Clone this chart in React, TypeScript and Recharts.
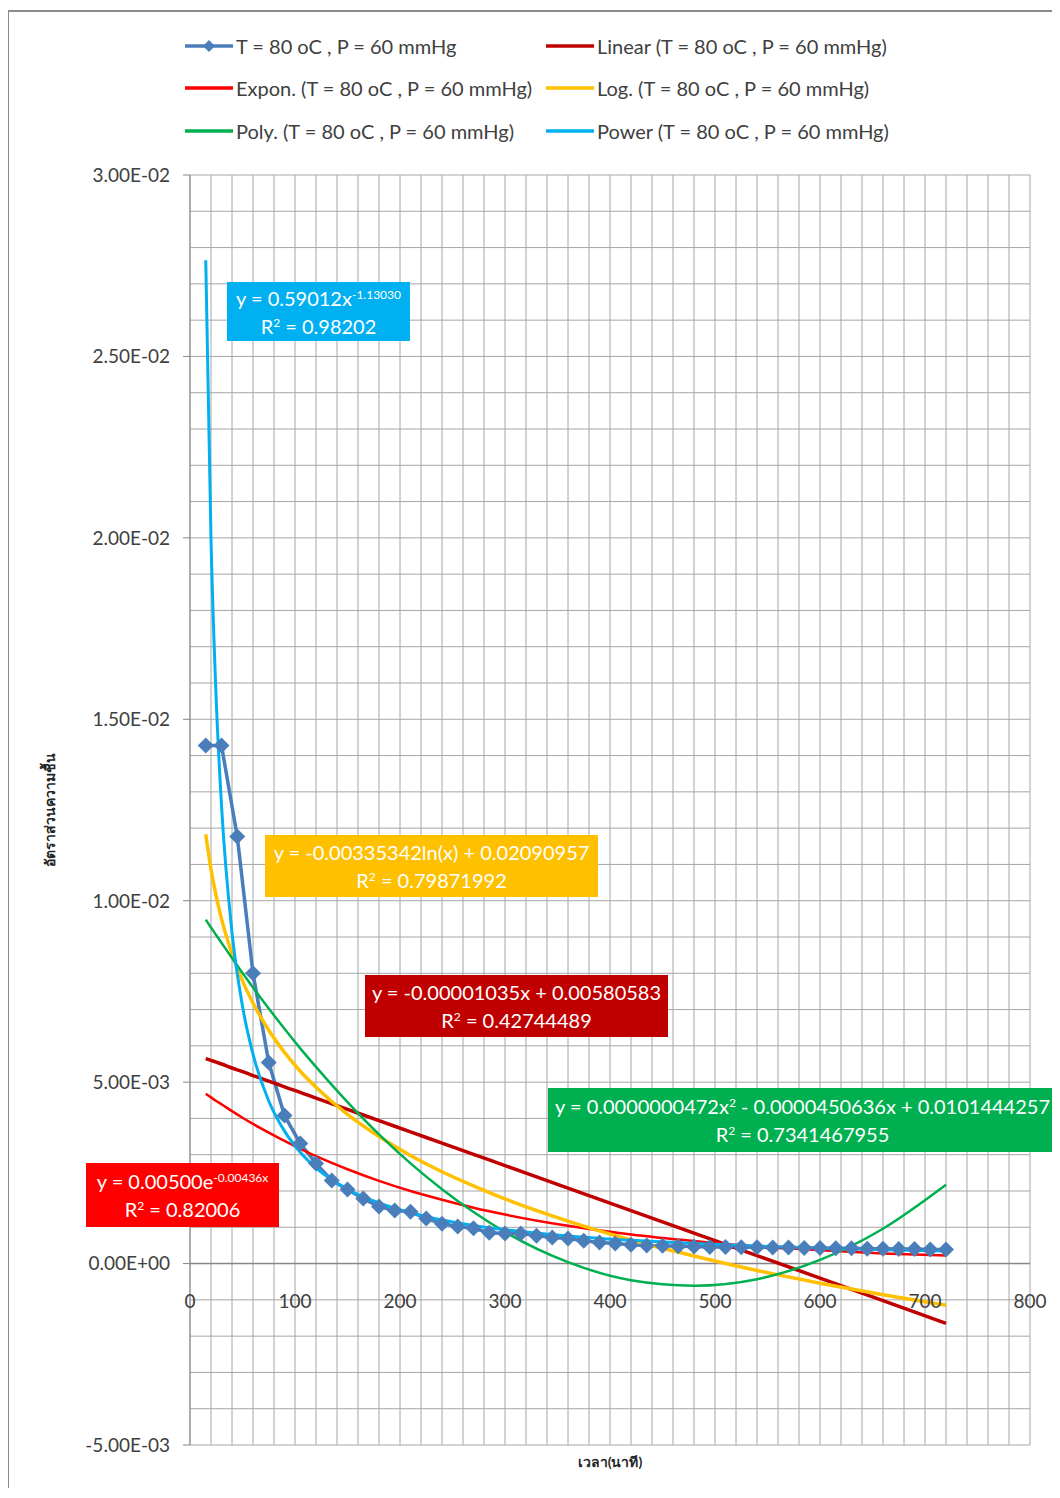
import React from "react";
import { ComposedChart, Line, XAxis, YAxis, CartesianGrid, ReferenceLine, ReferenceDot } from "recharts";

// drying time (min) and moisture ratio
const times = [
  15, 30, 45, 60, 75, 90, 105, 120, 135, 150, 165, 180, 195, 210, 225, 240,
  255, 270, 285, 300, 315, 330, 345, 360, 375, 390, 405, 420, 435, 450, 465, 480,
  495, 510, 525, 540, 555, 570, 585, 600, 615, 630, 645, 660, 675, 690, 705, 720,
];
const moisture = [
  0.01428, 0.01428, 0.01177, 0.008, 0.00554, 0.00408, 0.00331, 0.00276, 0.00229, 0.00204, 0.00179, 0.00157,
  0.00146, 0.00143, 0.00124, 0.0011, 0.00102, 0.00097, 0.00085, 0.00083, 0.00083, 0.00077, 0.00072, 0.00069,
  0.00063, 0.00058, 0.00055, 0.00052, 0.0005, 0.00049, 0.00048, 0.00047, 0.00046, 0.00046, 0.00045, 0.00045,
  0.00044, 0.00044, 0.00043, 0.00043, 0.00042, 0.00042, 0.00041, 0.00041, 0.0004, 0.0004, 0.00039, 0.00039,
];

// trendlines, sampled along the x range
const trendX = [15, 20, 25, 30, 40, 50, 60, 75, 90, 105, 120, 150, 180, 210, 240, 270, 300, 360, 420, 480, 540, 600, 660, 720];
const linearFit = [
  0.00565, 0.0056, 0.00555, 0.0055, 0.00539, 0.00529, 0.00518, 0.00503, 0.00487, 0.00472, 0.00456, 0.00425,
  0.00394, 0.00363, 0.00332, 0.00301, 0.0027, 0.00208, 0.00146, 0.00084, 0.00022, -0.0004, -0.00102, -0.00165,
];
const exponFit = [
  0.00468, 0.00458, 0.00448, 0.00439, 0.0042, 0.00402, 0.00385, 0.00361, 0.00338, 0.00316, 0.00296, 0.0026,
  0.00228, 0.002, 0.00176, 0.00154, 0.00135, 0.00104, 0.0008, 0.00062, 0.00047, 0.00037, 0.00028, 0.00022,
];
const logFit = [
  0.01183, 0.01086, 0.01012, 0.0095, 0.00854, 0.00779, 0.00718, 0.00643, 0.00582, 0.0053, 0.00486, 0.00411,
  0.0035, 0.00298, 0.00253, 0.00214, 0.00178, 0.00117, 0.00065, 0.00021, -0.00019, -0.00054, -0.00086, -0.00115,
];
const polyFit = [
  0.00948, 0.00926, 0.00905, 0.00884, 0.00842, 0.00801, 0.00761, 0.00703, 0.00647, 0.00593, 0.00542, 0.00445,
  0.00356, 0.00276, 0.00205, 0.00142, 0.00087, 0.00004, -0.00046, -0.00061, -0.00043, 0.0001, 0.00096, 0.00217,
];
const powerFit = [
  0.02765, 0.01997, 0.01552, 0.01263, 0.00912, 0.00709, 0.00577, 0.00448, 0.00365, 0.00307, 0.00264, 0.00205,
  0.00167, 0.0014, 0.0012, 0.00105, 0.000935, 0.000761, 0.00064, 0.00055, 0.000481, 0.000427, 0.000384, 0.000348,
];

const xGrid = [
  0, 20, 40, 60, 80, 100, 120, 140, 160, 180, 200, 220, 240, 260, 280, 300, 320, 340, 360, 380, 400,
  420, 440, 460, 480, 500, 520, 540, 560, 580, 600, 620, 640, 660, 680, 700, 720, 740, 760, 780, 800,
];
const xLabels = [0, 100, 200, 300, 400, 500, 600, 700, 800];
const yGrid = [
  -0.005, -0.004, -0.003, -0.002, -0.001, 0, 0.001, 0.002, 0.003, 0.004, 0.005, 0.006, 0.007, 0.008,
  0.009, 0.01, 0.011, 0.012, 0.013, 0.014, 0.015, 0.016, 0.017, 0.018, 0.019, 0.02, 0.021, 0.022, 0.023,
  0.024, 0.025, 0.026, 0.027, 0.028, 0.029, 0.03,
];

const seriesName = "T = 80 oC , P = 60 mmHg";
const legendNames = [
  seriesName,
  `Linear (${seriesName})`,
  `Expon. (${seriesName})`,
  `Log. (${seriesName})`,
  `Poly. (${seriesName})`,
  `Power (${seriesName})`,
];
const legendColors = ["#4a7ebb", "#c00000", "#ff0000", "#ffc000", "#00b050", "#00b0f0"];

const FONT = "Lato, 'Open Sans', sans-serif";
const TICK_SIZE = 7;
const TICK_MARGIN = 13;

const toRows = (xs: number[], ys: number[]) => xs.map((x, i) => ({ x, y: ys[i] }));

const sci = (v: number) => {
  if (Math.abs(v) < 1e-12) return "0.00E+00";
  const [m, e] = v.toExponential(2).split("e");
  const n = parseInt(e, 10);
  return `${m}E${n < 0 ? "-" : "+"}${String(Math.abs(n)).padStart(2, "0")}`;
};
const isMajor = (v: number) => Math.abs(Math.round(v * 200) - v * 200) < 1e-6;

const YTick = (props: any) => {
  const { x, y, payload } = props;
  if (!isMajor(payload.value)) return <g />;
  return (
    <g>
      <line x1={x + TICK_MARGIN} x2={x + TICK_MARGIN + TICK_SIZE} y1={y} y2={y} stroke="#868686" />
      <text x={x} y={y} dy="0.36em" textAnchor="end" fontSize={19} fill="#404040" fontFamily={FONT}>
        {sci(payload.value)}
      </text>
    </g>
  );
};

// x labels sit on the zero line (drawn with ReferenceDots), so the bottom axis draws nothing
const EmptyTick = () => <g />;

const renderDiamond = (p: any) => {
  const { cx, cy, index } = p;
  if (cx == null || cy == null) return <g key={`d-${index}`} />;
  const s = 8;
  return (
    <polygon
      key={`d-${index}`}
      points={`${cx},${cy - s} ${cx + s},${cy} ${cx},${cy + s} ${cx - s},${cy}`}
      fill="#4a7ebb"
    />
  );
};

function LegendItem({ i, left, top }: { i: number; left: number; top: number }) {
  return (
    <div style={{ position: "absolute", left, top, height: 28, display: "flex", alignItems: "center" }}>
      <svg width={50} height={16} style={{ marginRight: 1 }}>
        <line x1={0} x2={48} y1={8} y2={8} stroke={legendColors[i]} strokeWidth={3.5} />
        {i === 0 && <polygon points="24,2 30,8 24,14 18,8" fill="#4a7ebb" />}
      </svg>
      <span style={{ fontSize: 20, color: "#404040", whiteSpace: "nowrap" }}>{legendNames[i]}</span>
    </div>
  );
}

function EqBox({ left, top, width, height, bg, children }: any) {
  return (
    <div
      style={{
        position: "absolute",
        left,
        top,
        width,
        height,
        background: bg,
        color: "#fff",
        fontSize: 20,
        lineHeight: "28px",
        textAlign: "center",
        display: "flex",
        flexDirection: "column",
        justifyContent: "center",
        whiteSpace: "nowrap",
      }}
    >
      {children}
    </div>
  );
}

const sup: React.CSSProperties = { fontSize: 12, verticalAlign: "7px", lineHeight: 0 };

export default function App() {
  const dataRows = toRows(times, moisture);
  const fits = [
    { ys: linearFit, color: legendColors[1], w: 3.5 },
    { ys: exponFit, color: legendColors[2], w: 2.5 },
    { ys: logFit, color: legendColors[3], w: 3.5 },
    { ys: polyFit, color: legendColors[4], w: 2.5 },
    { ys: powerFit, color: legendColors[5], w: 3 },
  ];

  return (
    <div
      style={{
        position: "relative",
        top: 2,
        left: -1,
        width: 1050,
        height: 1480,
        boxSizing: "border-box",
        borderTop: "2px solid #8c8c8c",
        borderLeft: "2px solid #8c8c8c",
        fontFamily: FONT,
      }}
    >
      <LegendItem i={0} left={176} top={20} />
      <LegendItem i={1} left={537} top={20} />
      <LegendItem i={2} left={176} top={62} />
      <LegendItem i={3} left={537} top={62} />
      <LegendItem i={4} left={176} top={105} />
      <LegendItem i={5} left={537} top={105} />

      <div style={{ position: "absolute", left: 0, top: 0 }}>
        <ComposedChart width={1045} height={1476} margin={{ top: 163, right: 24, bottom: 5, left: 0 }}>
          <CartesianGrid stroke="#a6a6a6" strokeWidth={1} />
          <XAxis
            dataKey="x"
            type="number"
            domain={[0, 800]}
            ticks={xGrid}
            interval={0}
            tick={<EmptyTick />}
            tickLine={false}
            axisLine={false}
            height={38}
            allowDataOverflow
          />
          <YAxis
            type="number"
            domain={[-0.005, 0.03]}
            ticks={yGrid}
            interval={0}
            width={181}
            tickSize={TICK_SIZE}
            tickMargin={TICK_MARGIN}
            tickLine={false}
            tick={<YTick />}
            axisLine={{ stroke: "#868686" }}
            allowDataOverflow
          />
          <ReferenceLine y={0} stroke="#868686" strokeWidth={1.5} />
          {xLabels.map((v) => (
            <ReferenceDot
              key={v}
              x={v}
              y={0}
              r={1}
              fill="none"
              stroke="none"
              label={{ value: String(v), position: "bottom", offset: 30, fill: "#404040", fontSize: 19, fontFamily: FONT }}
            />
          ))}
          <Line
            data={dataRows}
            dataKey="y"
            type="linear"
            stroke="#4a7ebb"
            strokeWidth={3.5}
            dot={renderDiamond}
            activeDot={false}
            isAnimationActive={false}
          />
          {fits.map((f, i) => (
            <Line
              key={i}
              data={toRows(trendX, f.ys)}
              dataKey="y"
              type="monotone"
              stroke={f.color}
              strokeWidth={f.w}
              dot={false}
              activeDot={false}
              isAnimationActive={false}
            />
          ))}
        </ComposedChart>
      </div>

      <EqBox left={218} top={270} width={183} height={59} bg="#00b0f0">
        <div>
          y = 0.59012x<span style={sup}>-1.13030</span>
        </div>
        <div>
          R<span style={sup}>2</span> = 0.98202
        </div>
      </EqBox>
      <EqBox left={256} top={823} width={333} height={62} bg="#ffc000">
        <div>y = -0.00335342ln(x) + 0.02090957</div>
        <div>
          R<span style={sup}>2</span> = 0.79871992
        </div>
      </EqBox>
      <EqBox left={356} top={963} width={303} height={62} bg="#c00000">
        <div>y = -0.00001035x + 0.00580583</div>
        <div>
          R<span style={sup}>2</span> = 0.42744489
        </div>
      </EqBox>
      <EqBox left={539} top={1076} width={509} height={64} bg="#00b050">
        <div>
          y = 0.0000000472x<span style={sup}>2</span> - 0.0000450636x + 0.0101444257
        </div>
        <div>
          R<span style={sup}>2</span> = 0.7341467955
        </div>
      </EqBox>
      <EqBox left={77} top={1151} width={193} height={64} bg="#ff0000">
        <div>
          y = 0.00500e<span style={sup}>-0.00436x</span>
        </div>
        <div>
          R<span style={sup}>2</span> = 0.82006
        </div>
      </EqBox>

      <div
        style={{
          position: "absolute",
          left: 41,
          top: 798,
          transform: "translate(-50%, -50%) rotate(-90deg)",
          fontSize: 14,
          fontWeight: "bold",
          color: "#262626",
          whiteSpace: "nowrap",
        }}
      >
        อัตราส่วนความชื้น
      </div>
      <div
        style={{
          position: "absolute",
          left: 601,
          top: 1450,
          transform: "translate(-50%, -50%)",
          fontSize: 14,
          fontWeight: "bold",
          color: "#262626",
          whiteSpace: "nowrap",
        }}
      >
        เวลา(นาที)
      </div>
    </div>
  );
}
